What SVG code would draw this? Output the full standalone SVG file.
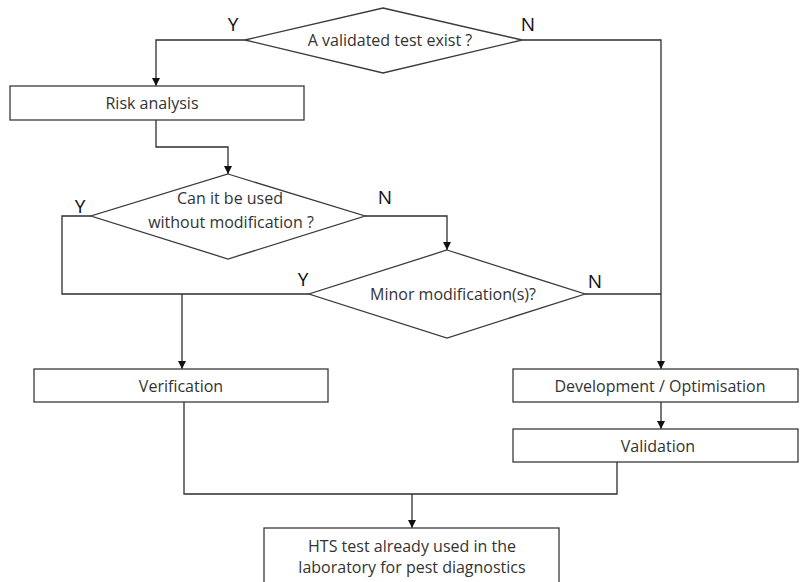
<svg xmlns="http://www.w3.org/2000/svg" width="800" height="582" viewBox="0 0 800 582">
  <style>
    .shape { fill: #ffffff; stroke: #3a3a3a; stroke-width: 1.3; }
    .wire { fill: none; stroke: #2e2e2e; stroke-width: 1.3; }
    .label { font-family: "Open Sans", "Noto Sans", sans-serif; font-size: 16px; fill: #333333; text-anchor: middle; dominant-baseline: central; }
    .yn { font-family: "Open Sans", "Noto Sans", sans-serif; font-size: 19px; fill: #111111; text-anchor: middle; }
  </style>
  <defs>
    <marker id="arrow" viewBox="0 0 10 10" refX="10" refY="5" markerWidth="8" markerHeight="8" markerUnits="userSpaceOnUse" orient="auto">
      <path d="M0,0 L10,5 L0,10 z" fill="#111111"/>
    </marker>
  </defs>
  <rect width="800" height="582" fill="#ffffff"/>

  <g id="connectors">
    <!-- top decision: Y branch to risk analysis -->
    <path class="wire" d="M245,40 H156 V86" marker-end="url(#arrow)"/>
    <!-- top decision: N branch down the right side -->
    <path class="wire" d="M522,40 H661 V369" marker-end="url(#arrow)"/>
    <!-- risk analysis to second decision -->
    <path class="wire" d="M156,120 V147 H228 V174" marker-end="url(#arrow)"/>
    <!-- second decision: Y branch -->
    <path class="wire" d="M91,216 H62 V294 H309"/>
    <!-- second decision: N branch to third decision -->
    <path class="wire" d="M365,216 H447 V250" marker-end="url(#arrow)"/>
    <!-- shared path down to verification -->
    <path class="wire" d="M182,294 V369" marker-end="url(#arrow)"/>
    <!-- third decision: N branch joins right side -->
    <path class="wire" d="M585,294 H661"/>
    <!-- development to validation -->
    <path class="wire" d="M661,402 V429" marker-end="url(#arrow)"/>
    <!-- verification and validation merge into final box -->
    <path class="wire" d="M184,402 V494 H617 V462"/>
    <path class="wire" d="M412,494 V528" marker-end="url(#arrow)"/>
  </g>

  <g id="decision-exists">
    <polygon class="shape" points="383,8 522,40 383,73 245,40"/>
    <text class="label" x="390" y="40">A validated test exist ?</text>
    <text class="yn" x="233" y="31">Y</text>
    <text class="yn" x="528" y="31">N</text>
  </g>

  <g id="risk-analysis">
    <rect class="shape" x="10" y="86" width="294" height="34"/>
    <text class="label" x="152" y="103">Risk analysis</text>
  </g>

  <g id="decision-unmodified">
    <polygon class="shape" points="228,174 365,216 228,259 91,216"/>
    <text class="label" x="230" y="198">Can it be used</text>
    <text class="label" x="231" y="222">without  modification ?</text>
    <text class="yn" x="80" y="213">Y</text>
    <text class="yn" x="385" y="204">N</text>
  </g>

  <g id="decision-minor">
    <polygon class="shape" points="447,250 585,294 447,338 309,294"/>
    <text class="label" x="453" y="294">Minor modification(s)?</text>
    <text class="yn" x="303" y="286">Y</text>
    <text class="yn" x="595" y="288">N</text>
  </g>

  <g id="verification">
    <rect class="shape" x="34" y="369" width="294" height="33"/>
    <text class="label" x="181" y="386">Verification</text>
  </g>

  <g id="development">
    <rect class="shape" x="513" y="369" width="285" height="33"/>
    <text class="label" x="660" y="386">Development / Optimisation</text>
  </g>

  <g id="validation">
    <rect class="shape" x="513" y="429" width="285" height="33"/>
    <text class="label" x="658" y="446">Validation</text>
  </g>

  <g id="hts-test">
    <rect class="shape" x="264" y="528" width="295" height="60"/>
    <text class="label" x="412" y="546">HTS test already used in the</text>
    <text class="label" x="412" y="567">laboratory for pest diagnostics</text>
  </g>
</svg>
